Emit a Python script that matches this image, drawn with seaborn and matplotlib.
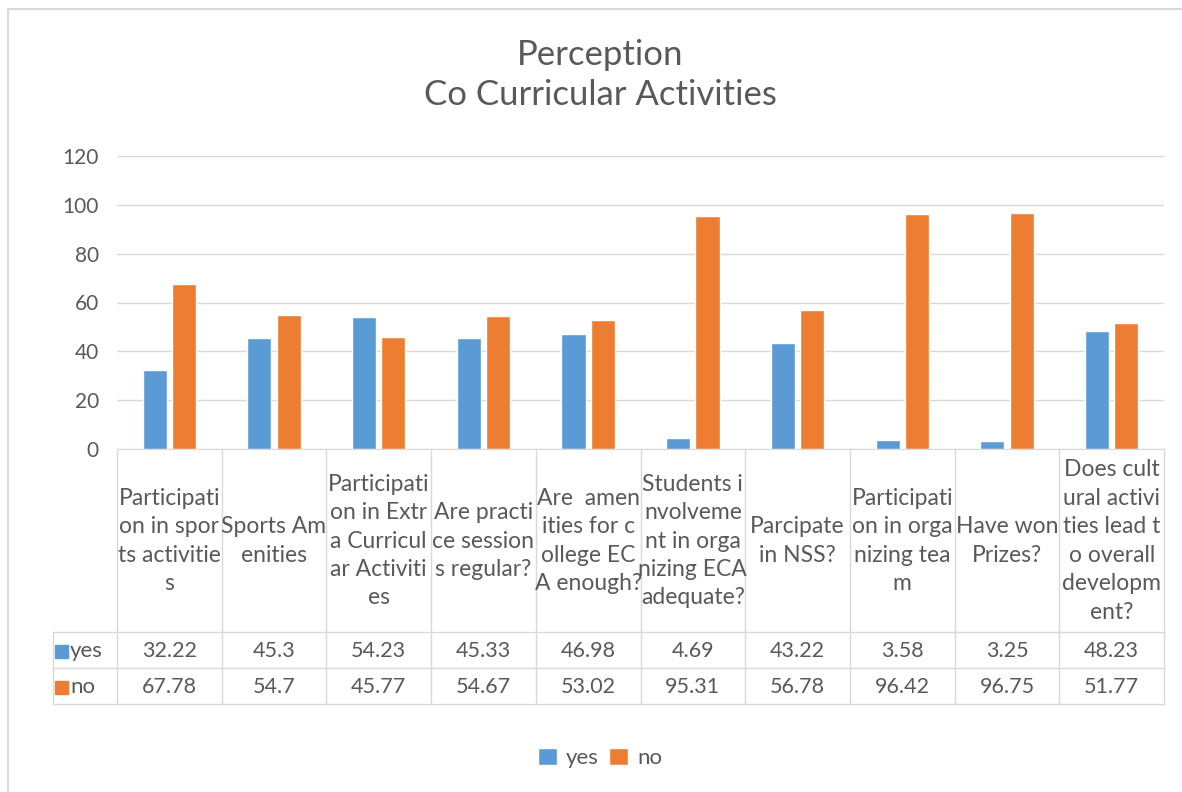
import numpy as np
import pandas as pd
import seaborn as sns
from matplotlib import pyplot as plt
from matplotlib.lines import Line2D
from matplotlib.patches import Rectangle
from matplotlib.transforms import blended_transform_factory

# chart data
categories = [
    "Participati\non in spor\nts activitie\ns",
    "Sports Am\nenities",
    "Participati\non in Extr\na Curricul\nar Activiti\nes",
    "Are practi\nce session\ns regular?",
    "Are  amen\nities for c\nollege EC\nA enough?",
    "Students i\nnvolveme\nnt in orga\nnizing ECA\nadequate?",
    "Parcipate\nin NSS?",
    "Participati\non in orga\nnizing tea\nm",
    "Have won\nPrizes?",
    "Does cult\nural activi\nties lead t\no overall\ndevelopm\nent?",
]
yes_vals = [32.22, 45.3, 54.23, 45.33, 46.98, 4.69, 43.22, 3.58, 3.25, 48.23]
no_vals = [67.78, 54.7, 45.77, 54.67, 53.02, 95.31, 56.78, 96.42, 96.75, 51.77]
series = ["yes", "no"]
colors = ["#5B9BD5", "#ED7D31"]

W, H = 1182, 792
TXT = "#595959"
GRID = "#D9D9D9"

sns.set_style("white")
plt.rcParams['font.family'] = ['Lato', 'DejaVu Sans']

df = pd.DataFrame({
    "cat": list(range(len(categories))) * 2,
    "value": yes_vals + no_vals,
    "series": ["yes"] * len(yes_vals) + ["no"] * len(no_vals),
})

fig = plt.figure(figsize=(W / 100, H / 100), dpi=100)
ax = fig.add_axes([117 / W, 1 - 449 / H, (1164 - 117) / W, (449 - 156) / H])

sns.barplot(data=df, x="cat", y="value", hue="series", hue_order=series,
            palette=colors, width=0.56, gap=0.18, saturation=1, ax=ax)

ax.set_ylim(0, 120)
ax.set_xlim(-0.5, len(categories) - 0.5)
ax.set_yticks(np.arange(0, 121, 20))
ax.yaxis.grid(True, color=GRID, lw=1)
ax.set_axisbelow(True)
ax.tick_params(axis="y", length=0, pad=13, labelsize=15, labelcolor=TXT)
ax.set_xticks([])
ax.set_xlabel("")
ax.set_ylabel("")
for s in ["top", "right", "left"]:
    ax.spines[s].set_visible(False)
ax.spines["bottom"].set_color(GRID)

handles, labels = ax.get_legend_handles_labels()
ax.get_legend().remove()


def fy(py):
    return 1 - py / H


def fx(px):
    return px / W


# data table under the axis
tr = blended_transform_factory(ax.transData, fig.transFigure)
n = len(categories)
for i in range(n + 1):
    fig.add_artist(Line2D([i - 0.5, i - 0.5], [fy(449), fy(704)], color=GRID, lw=1, transform=tr))
for py in [632, 668, 704]:
    fig.add_artist(Line2D([fx(53), fx(1164)], [fy(py), fy(py)], color=GRID, lw=1,
                          transform=fig.transFigure))
fig.add_artist(Line2D([fx(53), fx(53)], [fy(632), fy(704)], color=GRID, lw=1,
                      transform=fig.transFigure))

for i, lab in enumerate(categories):
    fig.text(i, fy(541), lab, transform=tr, ha="center", va="center",
             fontsize=16.5, color=TXT, linespacing=1.44)
    fig.text(i, fy(651), f"{yes_vals[i]:g}", transform=tr, ha="center", va="center",
             fontsize=15.5, color=TXT)
    fig.text(i, fy(687), f"{no_vals[i]:g}", transform=tr, ha="center", va="center",
             fontsize=15.5, color=TXT)

for name, c, py in zip(series, colors, [651, 687]):
    fig.add_artist(Rectangle((fx(55), fy(py + 7)), 13 / W, 13 / H, color=c,
                             transform=fig.transFigure))
    fig.text(fx(70), fy(py), name, ha="left", va="center", fontsize=16, color=TXT)

# title
fig.text(fx(600), fy(75), "Perception\nCo Curricular Activities", ha="center", va="center",
         fontsize=25, color=TXT, linespacing=1.3)

fig.legend(handles, labels, loc="center", bbox_to_anchor=(fx(600), fy(758)), ncol=2,
           frameon=False, fontsize=16, labelcolor=TXT, handlelength=0.85,
           handleheight=0.85, handletextpad=0.4, columnspacing=0.5)

# outer chart border
fig.add_artist(Rectangle((fx(8), fy(800)), (1200 - 8) / W, (800 - 9) / H, fill=False,
                         ec="#D9D9D9", lw=1.5, transform=fig.transFigure))

plt.savefig("out.png", dpi=100)
